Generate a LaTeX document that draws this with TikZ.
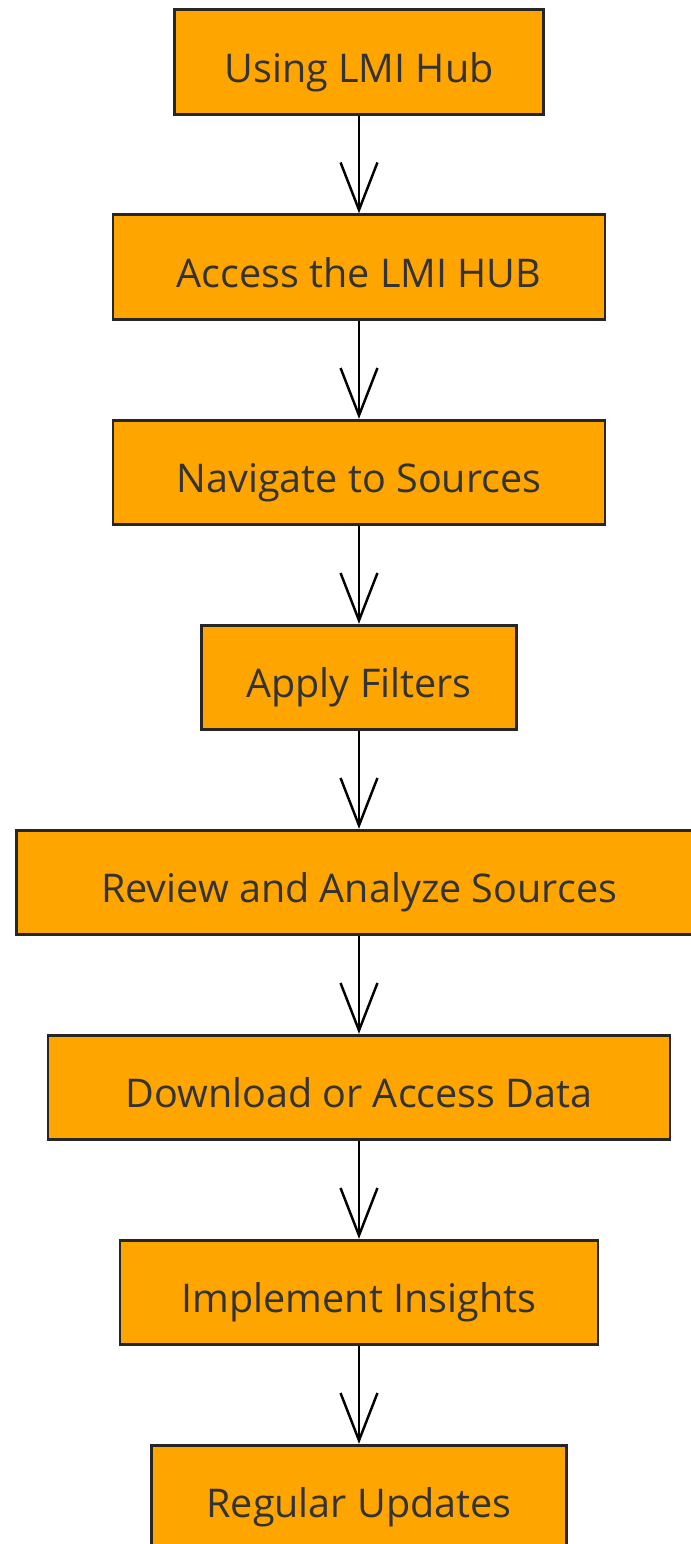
\documentclass[tikz,border=0pt]{standalone}
\usepackage{fontspec}
\setmainfont{Open Sans}
\usepackage{tikz}
\usetikzlibrary{arrows.meta}
\definecolor{boxfill}{HTML}{FFA500}
\definecolor{boxtext}{HTML}{333333}
\tikzset{>={Straight Barb[length=27pt,width=21pt,line width=1.4pt]},every node/.style={font=\fontsize{22.5}{27}\selectfont},
 stepbox/.style={draw=black!85,line width=1.6pt,fill=boxfill,text=boxtext,minimum height=59.5pt,inner sep=0pt,text height=23pt,text depth=0pt},
 link/.style={line width=1.4pt,->}}

\begin{document}
\begin{tikzpicture}[x=0.02cm,y=-0.02cm]
\useasboundingbox (0,0) rectangle (690,1544);
\node[stepbox,minimum width=210pt] (hub) at (359,62){Using LMI Hub};
\node[stepbox,minimum width=280pt] (access) at (359,267){Access the LMI HUB};
\node[stepbox,minimum width=280pt] (navigate) at (359,472.5){Navigate to Sources};
\node[stepbox,minimum width=179pt] (filters) at (359,677.5){Apply Filters};
\node[stepbox,minimum width=390pt] (review) at (359,882.5){Review and Analyze Sources};
\node[stepbox,minimum width=354pt] (download) at (359,1087.5){Download or Access Data};
\node[stepbox,minimum width=272pt] (insights) at (359,1292.5){Implement Insights};
\node[stepbox,minimum width=236pt] (updates) at (359,1497.5){Regular Updates};
\foreach \a/\b in {hub/access,access/navigate,navigate/filters,filters/review,review/download,download/insights,insights/updates}
 \draw[link] (\a) -- (\b);
\end{tikzpicture}
\end{document}
